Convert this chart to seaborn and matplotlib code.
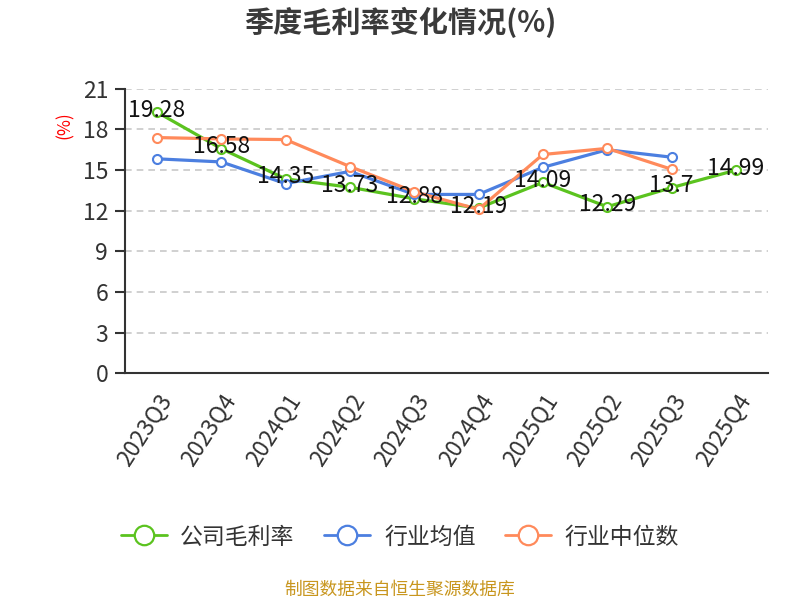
import matplotlib
matplotlib.use("Agg")
import matplotlib.pyplot as plt
import seaborn as sns
import pandas as pd
import numpy as np
from matplotlib.lines import Line2D

quarters = ["2023Q3", "2023Q4", "2024Q1", "2024Q2", "2024Q3", "2024Q4",
            "2025Q1", "2025Q2", "2025Q3", "2025Q4"]
company = [19.28, 16.58, 14.35, 13.73, 12.88, 12.19, 14.09, 12.29, 13.7, 14.99]
industry_mean = [15.83, 15.6, 14.0, 14.9, 13.2, 13.2, 15.2, 16.5, 15.95, None]
industry_median = [17.4, 17.3, 17.25, 15.26, 13.4, 12.1, 16.15, 16.6, 15.06, None]
series_names = ["公司毛利率", "行业均值", "行业中位数"]
colors = ["#5BC31F", "#4C7FE0", "#FF8A5B"]
yticks = [0, 3, 6, 9, 12, 15, 18, 21]

sns.set_theme(style="white")
plt.rcParams['font.family'] = ['Noto Sans CJK SC', 'DejaVu Sans']

rows = []
for name, vals in zip(series_names, [company, industry_mean, industry_median]):
    for i, (q, v) in enumerate(zip(quarters, vals)):
        if v is not None:
            rows.append({"pos": i, "quarter": q, "value": v, "series": name})
df = pd.DataFrame(rows)

fig = plt.figure(figsize=(8, 6), dpi=100)
ax = fig.add_axes([0.156, 0.378, 0.804, 0.474])

sns.lineplot(data=df, x="pos", y="value", hue="series", hue_order=series_names,
             palette=colors, marker="o", markersize=6.5, markerfacecolor="white",
             markeredgewidth=1.5, linewidth=2.3, ax=ax, legend=False)
for line, c in zip(ax.lines, colors):
    line.set_markeredgecolor(c)

for i, v in enumerate(company):
    ax.text(i, v + 0.15, f"{v:g}", ha="center", va="center", fontsize=16.5,
            color="#111111", zorder=5)

ax.set_xlim(-0.5, 9.5)
ax.set_ylim(0, 21)
ax.set_yticks(yticks)
ax.set_yticklabels([str(t) for t in yticks], fontsize=16.5, color="#333333")
ax.set_xticks(range(len(quarters)))
ax.set_xticklabels(quarters, rotation=57, ha="right", rotation_mode="anchor",
                   fontsize=16.5, color="#333333")
ax.set_xticks(np.arange(-0.5, 10, 1), minor=True)
ax.tick_params(axis="x", which="major", length=0, pad=12)
ax.tick_params(axis="x", which="minor", length=6, width=1.5, color="#333333")
ax.tick_params(axis="y", length=7, width=1.5, color="#333333", left=True, pad=5)
ax.set_xlabel("")
ax.set_ylabel("")

for t in yticks[1:]:
    ax.axhline(t, color="#c8c8c8", linestyle=(0, (4, 3)), linewidth=1.2, zorder=0)

for s in ["top", "right"]:
    ax.spines[s].set_visible(False)
for s in ["left", "bottom"]:
    ax.spines[s].set_color("#333333")
    ax.spines[s].set_linewidth(1.5)

fig.text(0.5, 0.962, "季度毛利率变化情况(%)", ha="center", va="center",
         fontsize=21, fontweight="bold", color="#3a3a3a")
fig.text(0.081, 0.792, "(%)", ha="center", va="center", rotation=90,
         fontsize=12.5, color="#ff0000")

handles = [Line2D([0], [0], color=c, linewidth=2, marker="o", markersize=14,
                  markerfacecolor="white", markeredgecolor=c, markeredgewidth=1.6)
           for c in colors]
fig.legend(handles, series_names, loc="center", bbox_to_anchor=(0.5, 0.105),
           ncol=3, frameon=False, fontsize=16.5, handlelength=2.0,
           columnspacing=1.3, handletextpad=0.6, labelcolor="#333333")

fig.text(0.5, 0.017, "制图数据来自恒生聚源数据库", ha="center", va="center",
         fontsize=12.8, color="#C8961E")

fig.savefig("out.png", dpi=100)
